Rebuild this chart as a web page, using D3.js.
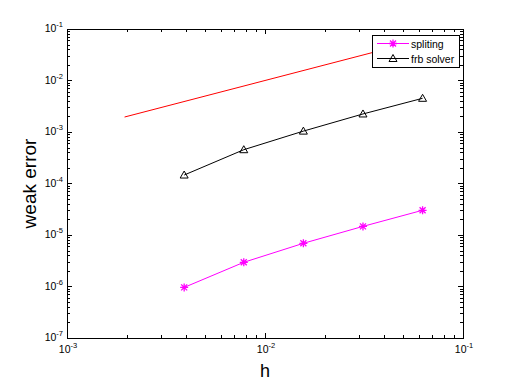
<!DOCTYPE html>
<html><head><meta charset="utf-8">
<script src="https://cdn.jsdelivr.net/npm/d3@7/dist/d3.min.js"></script>
<style>body{margin:0;background:#fff}svg{display:block}text{font-family:"Liberation Sans",Arial,sans-serif}</style>
</head><body>
<svg id="c" width="512" height="384"></svg>
<script>
const hValues = [1/256, 1/128, 1/64, 1/32, 1/16];
const splitingErr = [9.6e-7, 2.95e-6, 6.9e-6, 1.47e-5, 3.02e-5];
const frbErr = [1.46e-4, 4.53e-4, 1.04e-3, 2.24e-3, 4.51e-3];
const refH = [1/512, 1/16];
const refErr = [1/512, 1/16];
const xTickExps = [-3, -2, -1];
const yTickExps = [-7, -6, -5, -4, -3, -2, -1];
const legendLabels = ["spliting", "frb solver"];

const svg = d3.select("#c");
const L = 67, R = 463, T = 29, B = 338;
const x = d3.scaleLog().domain([1e-3, 1e-1]).range([L, R]);
const y = d3.scaleLog().domain([1e-7, 1e-1]).range([B, T]);

svg.append("rect").attr("width",512).attr("height",384).attr("fill","#fff");

const g = svg.append("g").attr("stroke","#000").attr("stroke-width",1).attr("shape-rendering","crispEdges");
function minorVals(lo, hi){ const v=[]; for(let e=lo;e<hi;e++){ for(let m=2;m<=9;m++) v.push(m*Math.pow(10,e)); } return v; }
const xMinor = minorVals(-3,-1), yMinor = minorVals(-7,-1);
const px = v => Math.round(v)+0.5;
xMinor.forEach(v=>{ const xx=px(x(v));
  g.append("line").attr("x1",xx).attr("x2",xx).attr("y1",B).attr("y2",B-3);
  g.append("line").attr("x1",xx).attr("x2",xx).attr("y1",T).attr("y2",T+3);
});
xTickExps.forEach(e=>{ const xx=px(x(Math.pow(10,e)));
  g.append("line").attr("x1",xx).attr("x2",xx).attr("y1",B).attr("y2",B-5);
  g.append("line").attr("x1",xx).attr("x2",xx).attr("y1",T).attr("y2",T+5);
});
yMinor.forEach(v=>{ const yy=px(y(v));
  g.append("line").attr("x1",L).attr("x2",L+3).attr("y1",yy).attr("y2",yy);
  g.append("line").attr("x1",R).attr("x2",R-3).attr("y1",yy).attr("y2",yy);
});
yTickExps.forEach(e=>{ const yy=px(y(Math.pow(10,e)));
  g.append("line").attr("x1",L).attr("x2",L+5).attr("y1",yy).attr("y2",yy);
  g.append("line").attr("x1",R).attr("x2",R-5).attr("y1",yy).attr("y2",yy);
});
g.append("rect").attr("x",px(L)).attr("y",px(T)).attr("width",Math.round(R)-Math.round(L)).attr("height",Math.round(B)-Math.round(T)).attr("fill","none");

xTickExps.forEach(e=>{
  const t = svg.append("text").attr("x",x(Math.pow(10,e))+1).attr("y",B+15).attr("text-anchor","middle").attr("font-size",10.5);
  t.append("tspan").text("10");
  t.append("tspan").attr("font-size",7.5).attr("dy",-5).text(String(e));
});
yTickExps.forEach(e=>{
  const t = svg.append("text").attr("x",L-4).attr("y",y(Math.pow(10,e))+3).attr("text-anchor","end").attr("font-size",10.5);
  t.append("tspan").text("10");
  t.append("tspan").attr("font-size",7.5).attr("dy",-5).text(String(e));
});

svg.append("text").attr("x",(L+R)/2).attr("y",377).attr("text-anchor","middle").attr("font-size",18).text("h");
svg.append("text").attr("transform",`translate(36,${(T+B)/2}) rotate(-90)`).attr("text-anchor","middle").attr("font-size",19).text("weak error");

const line = d3.line().x(d=>x(d[0])).y(d=>y(d[1]));
svg.append("path").datum(refH.map((h,i)=>[h,refErr[i]])).attr("d",line).attr("fill","none").attr("stroke","#ff0000").attr("stroke-width",1);
svg.append("path").datum(hValues.map((h,i)=>[h,frbErr[i]])).attr("d",line).attr("fill","none").attr("stroke","#000").attr("stroke-width",1);
svg.append("path").datum(hValues.map((h,i)=>[h,splitingErr[i]])).attr("d",line).attr("fill","none").attr("stroke","#ff00ff").attr("stroke-width",1);

function triangle(sel, cx, cy){
  sel.append("path").attr("d",`M${cx},${cy-4}L${cx+4},${cy+3}L${cx-4},${cy+3}Z`).attr("fill","none").attr("stroke","#000").attr("stroke-width",1);
}
function star(sel, cx, cy){
  const s=4, d=3;
  sel.append("path").attr("d",`M${cx-s},${cy}L${cx+s},${cy}M${cx},${cy-s}L${cx},${cy+s}M${cx-d},${cy-d}L${cx+d},${cy+d}M${cx-d},${cy+d}L${cx+d},${cy-d}`)
    .attr("stroke","#ff00ff").attr("stroke-width",1.3).attr("fill","none");
}
hValues.forEach((h,i)=>{ triangle(svg, x(h), y(frbErr[i])); star(svg, x(h), y(splitingErr[i])); });

const lg = svg.append("g");
lg.append("rect").attr("x",372.5).attr("y",35.5).attr("width",87).attr("height",32).attr("fill","#fff").attr("stroke","#000").attr("shape-rendering","crispEdges");
const ly = [43.5, 58.5];
lg.append("line").attr("x1",377).attr("x2",409).attr("y1",ly[0]).attr("y2",ly[0]).attr("stroke","#ff00ff");
star(lg, 393, ly[0]);
lg.append("line").attr("x1",377).attr("x2",409).attr("y1",ly[1]).attr("y2",ly[1]).attr("stroke","#000");
triangle(lg, 393, ly[1]);
legendLabels.forEach((t,i)=>{
  lg.append("text").attr("x",411).attr("y",ly[i]+4).attr("font-size",10.5).text(t);
});
</script>
</body></html>
